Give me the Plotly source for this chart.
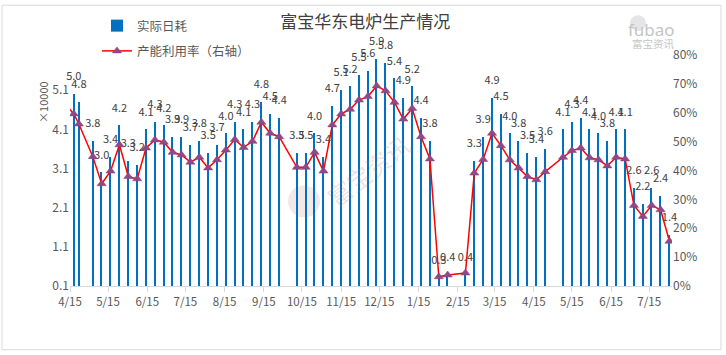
import plotly.graph_objects as go

# ---- data ----
dates = [
    "2019-04-11", "2019-04-18", "2019-04-22", "2019-05-03", "2019-05-10", "2019-05-17", "2019-05-24",
    "2019-05-31", "2019-06-07", "2019-06-14", "2019-06-21", "2019-06-28", "2019-07-05", "2019-07-12",
    "2019-07-19", "2019-07-26", "2019-08-02", "2019-08-09", "2019-08-16", "2019-08-23", "2019-08-30",
    "2019-09-06", "2019-09-13", "2019-09-20", "2019-09-27", "2019-10-11", "2019-10-18", "2019-10-25",
    "2019-11-01", "2019-11-08", "2019-11-15", "2019-11-22", "2019-11-29", "2019-12-06", "2019-12-13",
    "2019-12-20", "2019-12-27", "2020-01-03", "2020-01-10", "2020-01-17", "2020-01-24", "2020-01-31",
    "2020-02-07", "2020-02-21", "2020-02-28", "2020-03-06", "2020-03-13", "2020-03-20", "2020-03-27",
    "2020-04-03", "2020-04-10", "2020-04-17", "2020-04-24", "2020-05-08", "2020-05-15", "2020-05-22",
    "2020-05-29", "2020-06-05", "2020-06-12", "2020-06-19", "2020-06-26", "2020-07-03", "2020-07-10",
    "2020-07-17", "2020-07-24", "2020-07-31",
]
daily_use = [
    None, 5.0, 4.8, 3.8, 3.0, 3.4, 4.2,
    3.3, 3.2, 4.1, 4.3, 4.2, 3.9, 3.9,
    3.7, 3.8, 3.5, 3.7, 4.0, 4.3, 4.1,
    4.3, 4.8, 4.5, 4.4, 3.5, 3.5, 4.0,
    3.4, 4.7, 5.1, 5.2, 5.5, 5.6, 5.9,
    5.8, 5.4, 4.9, 5.2, 4.4, 3.8, 0.3,
    0.4, 0.4, 3.3, 3.9, 4.9, 4.5, 4.0,
    3.8, 3.5, 3.4, 3.6, 4.1, 4.3, 4.4,
    4.1, 4.0, 3.8, 4.1, 4.1, 2.6, 2.2,
    2.6, 2.4, 1.4,
]
utilization = [
    0.630, 0.596, 0.561, 0.448, 0.354, 0.398, 0.489,
    0.379, 0.371, 0.478, 0.506, 0.498, 0.463, 0.454,
    0.429, 0.446, 0.409, 0.437, 0.471, 0.507, 0.480,
    0.501, 0.567, 0.529, 0.517, 0.411, 0.411, 0.463,
    0.398, 0.558, 0.596, 0.612, 0.644, 0.656, 0.693,
    0.676, 0.636, 0.578, 0.615, 0.517, 0.440, 0.032,
    0.038, 0.045, 0.391, 0.438, 0.529, 0.486, 0.437,
    0.409, 0.379, 0.368, 0.396, 0.446, 0.469, 0.478,
    0.444, 0.437, 0.416, 0.446, 0.440, 0.279, 0.241,
    0.279, 0.264, 0.155,
]
tick_dates = [
    "2019-04-15", "2019-05-15", "2019-06-15", "2019-07-15", "2019-08-15", "2019-09-15",
    "2019-10-15", "2019-11-15", "2019-12-15", "2020-01-15", "2020-02-15", "2020-03-15",
    "2020-04-15", "2020-05-15", "2020-06-15", "2020-07-15",
]
tick_labels = ["4/15", "5/15", "6/15", "7/15", "8/15", "9/15", "10/15", "11/15",
               "12/15", "1/15", "2/15", "3/15", "4/15", "5/15", "6/15", "7/15"]
bar_labels = ["" if v is None else f"{v:.1f}" for v in daily_use]

FONT = "Noto Sans CJK SC, Noto Sans, sans-serif"
W, H = 726, 355
L, R, T, B = 70, 54, 54, 69
PW, PH = W - L - R, H - T - B


def px(x):
    return (x - L) / PW


def py(y):
    return (H - B - y) / PH


fig = go.Figure()
fig.add_trace(go.Bar(
    x=dates, y=daily_use, name="实际日耗",
    marker=dict(color="#0070C0", line=dict(width=0)),
    width=1.15 * 86400000,
    legendgroup="a",
))
# value labels above the bars (invisible markers give the gap above each bar top)
fig.add_trace(go.Scatter(
    x=dates, y=daily_use, mode="markers+text", text=bar_labels,
    textposition="top center",
    marker=dict(size=16, color="rgba(0,0,0,0)"),
    textfont=dict(size=11, color="#404040", family=FONT),
    cliponaxis=False, showlegend=False, hoverinfo="skip",
))
fig.add_trace(go.Scatter(
    x=dates, y=utilization, name="产能利用率（右轴）", yaxis="y2",
    mode="lines+markers",
    line=dict(color="#FF0000", width=1.5),
    marker=dict(symbol="triangle-up", size=8, color="#8A4A8C",
                line=dict(color="#9b3b6b", width=0.5)),
    legendgroup="b",
))

fig.update_layout(
    width=W, height=H,
    margin=dict(l=L, r=R, t=T, b=B),
    paper_bgcolor="white", plot_bgcolor="white",
    font=dict(family=FONT, color="#595959", size=12),
    title=dict(text="富宝华东电炉生产情况", x=0.503, xref="container", xanchor="center",
               y=1 - 22 / H, yref="container", yanchor="middle",
               font=dict(size=17, color="#404040", family=FONT)),
    showlegend=True,
    legend=dict(x=px(97), y=py(11), xanchor="left", yanchor="top",
                orientation="v", tracegroupgap=6,
                font=dict(size=12.5, color="#595959", family=FONT),
                bgcolor="rgba(0,0,0,0)"),
    bargap=0,
    xaxis=dict(
        type="date", range=["2019-04-15", "2020-08-02"],
        tickvals=tick_dates, ticktext=tick_labels,
        ticks="outside", ticklen=5, tickcolor="#d9d9d9",
        showline=True, linecolor="#d9d9d9", linewidth=1,
        showgrid=False, zeroline=False,
        tickfont=dict(size=11.5, color="#595959"),
    ),
    yaxis=dict(
        range=[0.1, 6.0], tick0=0.1, dtick=1, tickformat=".1f",
        showgrid=False, zeroline=False, showline=False, ticks="",
        tickfont=dict(size=12, color="#595959"),
    ),
    yaxis2=dict(
        range=[0, 0.8], dtick=0.1, tickformat=".0%", overlaying="y", side="right",
        showgrid=False, zeroline=False, showline=False, ticks="",
        tickfont=dict(size=12, color="#595959"),
    ),
)

# unit label
fig.add_annotation(text="×10000", xref="paper", yref="paper", x=px(33), y=py(78),
                   textangle=-90, showarrow=False,
                   font=dict(size=11, color="#595959", family=FONT))

# watermark in centre
fig.add_shape(type="circle", xref="paper", yref="paper",
              x0=px(288), x1=px(320), y0=py(217), y1=py(185),
              fillcolor="rgba(190,120,120,0.18)", line=dict(width=0), layer="below")
fig.add_annotation(text="富宝资讯", xref="paper", yref="paper", x=px(368), y=py(170),
                   textangle=-38, showarrow=False,
                   font=dict(size=24, color="rgba(190,120,120,0.22)", family=FONT))

# logo top right
fig.add_shape(type="circle", xref="paper", yref="paper",
              x0=px(630), x1=px(646), y0=py(30), y1=py(14),
              fillcolor="rgba(180,180,180,0.35)", line=dict(width=0))
fig.add_annotation(text="fubao", xref="paper", yref="paper", x=px(677), y=py(15),
                   showarrow=False, font=dict(size=17, color="#c4c4c4", family="Noto Sans"))
fig.add_annotation(text="富宝资讯", xref="paper", yref="paper", x=px(677), y=py(33),
                   showarrow=False, font=dict(size=10.5, color="#c4c4c4", family=FONT))

# chart border
fig.add_shape(type="rect", xref="paper", yref="paper",
              x0=px(2), x1=px(721), y0=py(350), y1=py(4),
              line=dict(color="#d9d9d9", width=1), fillcolor="rgba(0,0,0,0)")

fig.write_html("out.html", config={"displayModeBar": False},
               post_script="document.body.style.margin='0';document.body.style.overflow='hidden';")
